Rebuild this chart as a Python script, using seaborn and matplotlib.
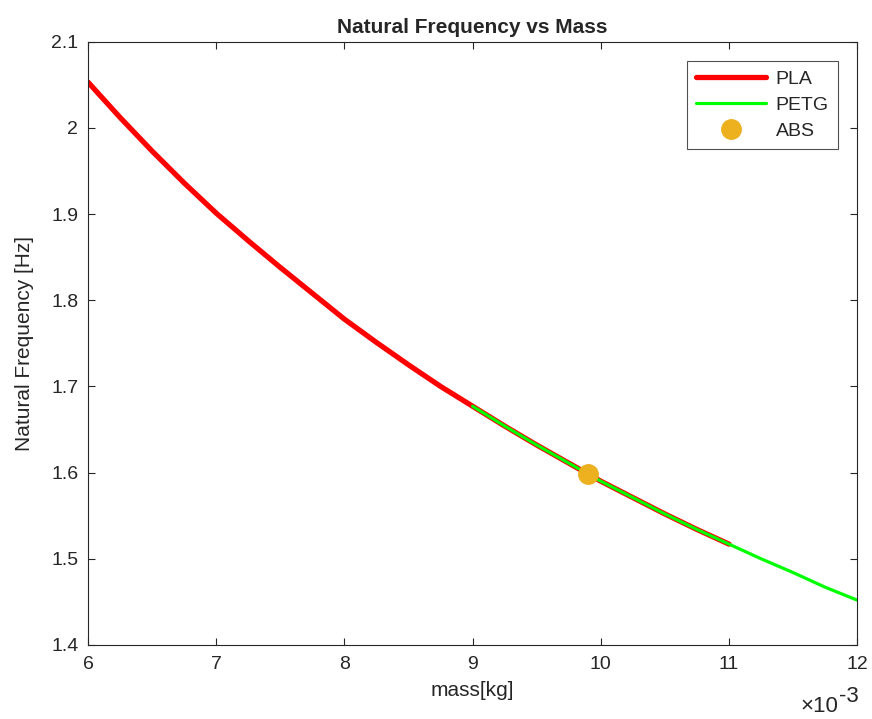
import numpy as np
import pandas as pd
import matplotlib
matplotlib.use("Agg")
import matplotlib.pyplot as plt
import seaborn as sns

# valores (massa em 10^-3 kg, frequencia em Hz)
mass_pla = [6.0, 6.25, 6.5, 6.75, 7.0, 7.25, 7.5, 7.75, 8.0, 8.25, 8.5, 8.75,
            9.0, 9.25, 9.5, 9.75, 10.0, 10.25, 10.5, 10.75, 11.0]
freq_pla = [2.053, 2.012, 1.973, 1.936, 1.901, 1.869, 1.838, 1.808, 1.778, 1.751,
            1.725, 1.700, 1.677, 1.654, 1.632, 1.611, 1.590, 1.571, 1.552, 1.534, 1.517]

mass_petg = [9.0, 9.25, 9.5, 9.75, 10.0, 10.25, 10.5, 10.75, 11.0, 11.25,
             11.5, 11.75, 12.0]
freq_petg = [1.677, 1.654, 1.632, 1.611, 1.590, 1.571, 1.552, 1.534, 1.517, 1.500,
             1.484, 1.467, 1.452]

mass_abs = [9.9]
freq_abs = [1.598]

sns.set_style("ticks")
plt.rcParams['font.family'] = ['Liberation Sans', 'DejaVu Sans']
plt.rcParams['xtick.direction'] = 'in'
plt.rcParams['ytick.direction'] = 'in'

pla = pd.DataFrame({'mass': mass_pla, 'freq': freq_pla})
petg = pd.DataFrame({'mass': mass_petg, 'freq': freq_petg})

fig = plt.figure(figsize=(8.72, 7.19), dpi=100)
ax = fig.add_axes([0.101, 0.103, 0.882, 0.839])

sns.lineplot(data=pla, x='mass', y='freq', color='#ff0000', linewidth=3.8, label='PLA', ax=ax)
sns.lineplot(data=petg, x='mass', y='freq', color='#00ff00', linewidth=2.3, label='PETG', ax=ax)
ax.plot(mass_abs, freq_abs, 'o', color='#edb120', markersize=14, label='ABS', linestyle='none')

ax.set_xlim(6, 12)
ax.set_ylim(1.4, 2.1)
ax.set_xticks(np.arange(6, 13, 1))
ax.set_yticks(np.arange(1.4, 2.101, 0.1))
ax.set_yticklabels(['1.4', '1.5', '1.6', '1.7', '1.8', '1.9', '2', '2.1'])
ax.tick_params(axis='both', which='both', top=True, right=True, labelsize=14,
               colors='#262626', length=5, width=0.8)
ax.tick_params(axis='x', pad=8)
ax.tick_params(axis='y', pad=7)
for s in ax.spines.values():
    s.set_color('#262626')
    s.set_linewidth(0.8)

ax.set_xlabel('mass[kg]', fontsize=15, color='#262626', labelpad=6)
ax.set_ylabel('Natural Frequency [Hz]', fontsize=15, color='#262626', labelpad=12)
ax.set_title('Natural Frequency vs Mass', fontsize=15, fontweight='bold', pad=6)

# fator de escala do eixo x, estilo matlab
fig.text(0.961, 0.01, '\u00d710', ha='right', va='baseline', fontsize=16, color='#262626')
fig.text(0.962, 0.024, '-3', ha='left', va='baseline', fontsize=16, color='#262626')

leg = ax.legend(loc='upper right', fontsize=14, frameon=True, fancybox=False,
                edgecolor='#262626', borderaxespad=1.0, handlelength=3.6,
                labelspacing=0.45, borderpad=0.45, handletextpad=0.5)
leg.get_frame().set_linewidth(0.8)

fig.savefig('out.png', dpi=100)
